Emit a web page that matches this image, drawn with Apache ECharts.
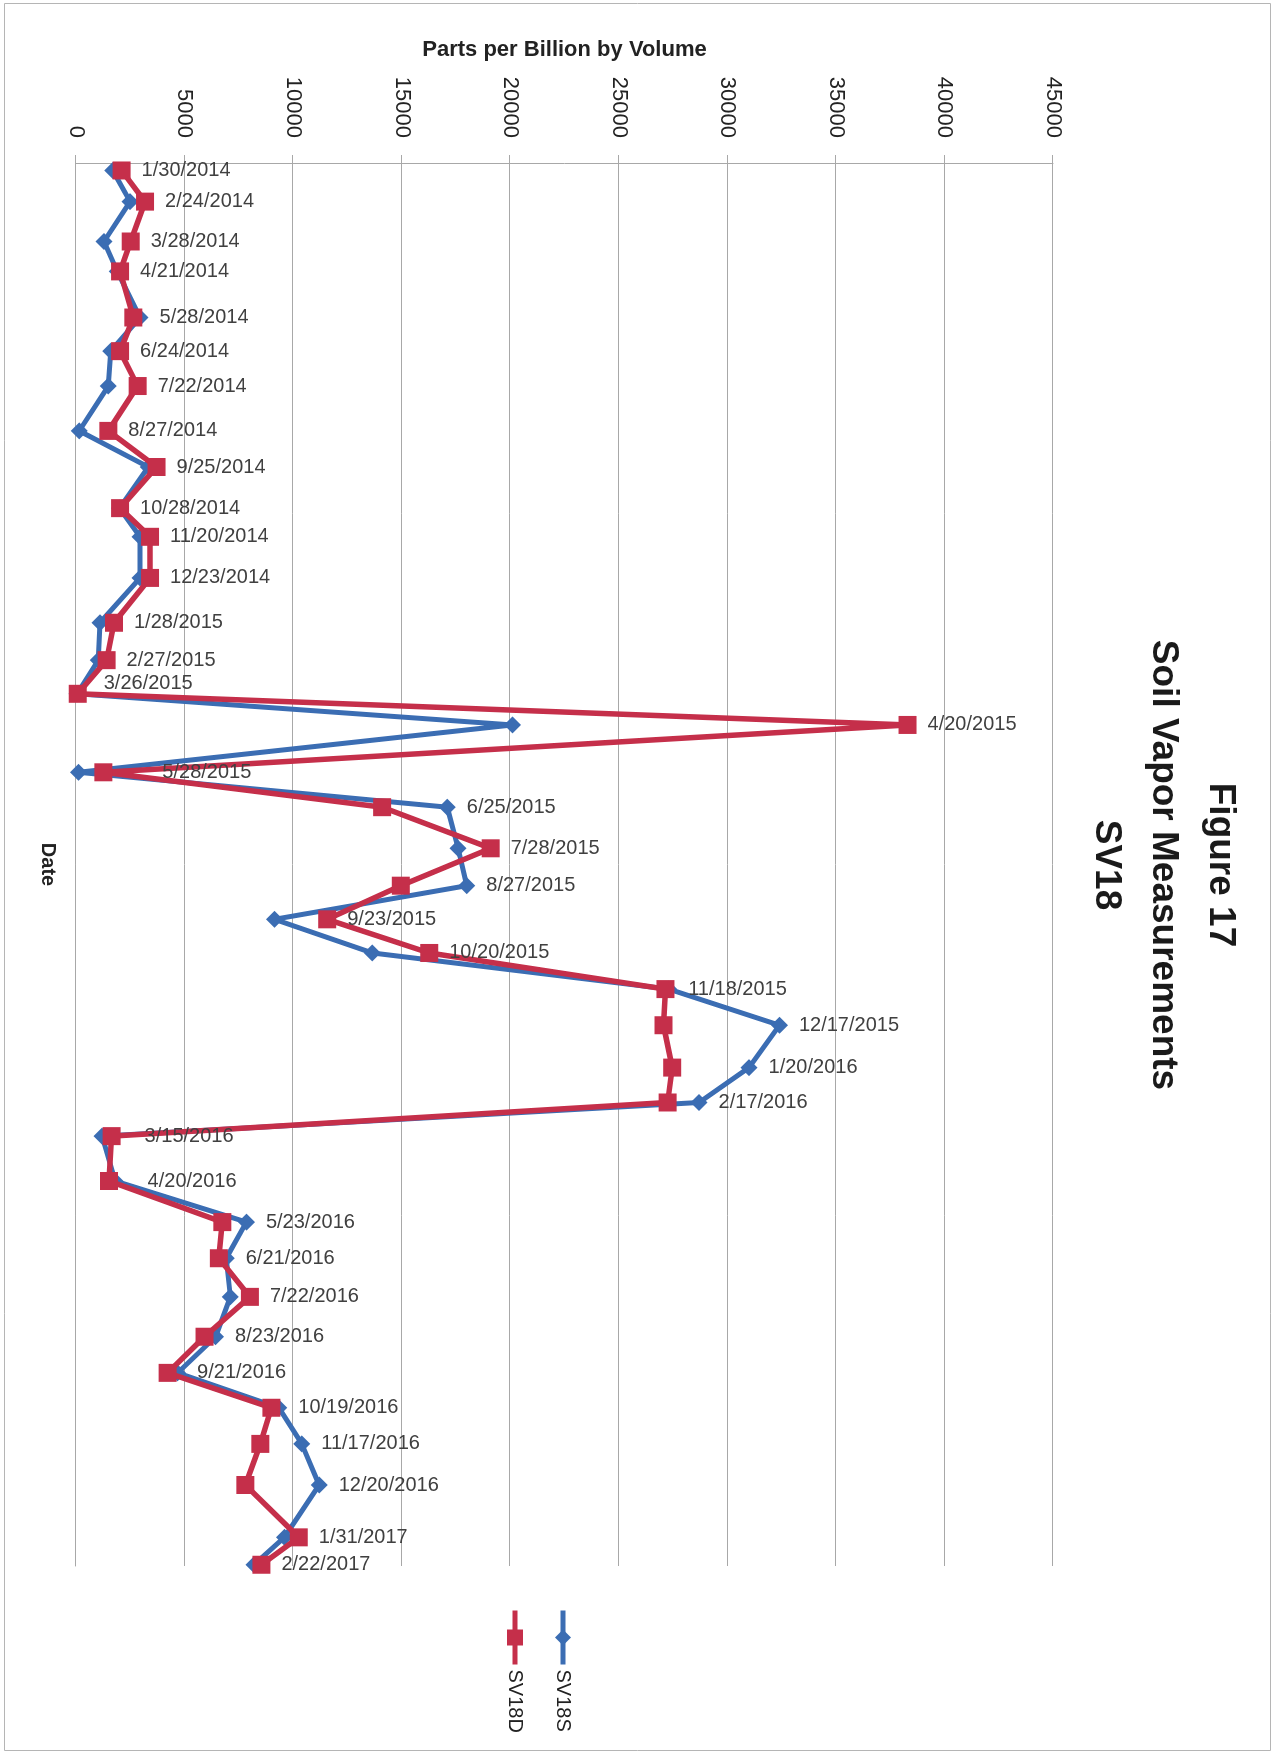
<!DOCTYPE html>
<html>
<head>
<meta charset="utf-8">
<script src="https://cdn.jsdelivr.net/npm/echarts@6/dist/echarts.min.js"></script>
<style>
  html, body { margin: 0; padding: 0; background: #fff; overflow: hidden; }
  #chart {
    position: absolute; left: 0; top: 0;
    width: 1754px; height: 1275px;
    transform-origin: 0 0;
    transform: translate(1275px, 0) rotate(90deg);
    background: #fff;
  }
</style>
</head>
<body>
<div id="chart"></div>
<script>
// ---- data ----
const dates = [
  '1/30/2014','2/24/2014','3/28/2014','4/21/2014','5/28/2014','6/24/2014','7/22/2014','8/27/2014',
  '9/25/2014','10/28/2014','11/20/2014','12/23/2014',
  '1/28/2015','2/27/2015','3/26/2015','4/20/2015','5/28/2015','6/25/2015','7/28/2015','8/27/2015',
  '9/23/2015','10/20/2015','11/18/2015','12/17/2015',
  '1/20/2016','2/17/2016','3/15/2016','4/20/2016','5/23/2016','6/21/2016','7/22/2016','8/23/2016',
  '9/21/2016','10/19/2016','11/17/2016','12/20/2016',
  '1/31/2017','2/22/2017'
];
const sv18s = [
  1690, 2490, 1290, 1900, 2950, 1600, 1490, 150, 3330, 2000, 2950, 2950,
  1100, 1030, 50, 20100, 110, 17100, 17600, 18000, 9140, 13650, 27300, 32400,
  31000, 28700, 1200, 1800, 7850, 6920, 7110, 6430, 4680, 9340, 10400, 11200,
  9600, 8200
];
const sv18d = [
  2100, 3180, 2520, 2030, 2640, 2030, 2840, 1490, 3710, 2030, 3410, 3410,
  1750, 1410, 80, 38300, 1260, 14100, 19100, 14960, 11570, 16270, 27150, 27060,
  27460, 27250, 1640, 1520, 6740, 6580, 8010, 5920, 4220, 9000, 8490, 7800,
  10260, 8540
];
const valueTicks = [0, 5000, 10000, 15000, 20000, 25000, 30000, 35000, 40000, 45000];
const seriesNames = ['SV18S', 'SV18D'];
const titleLines = ['Figure 17', 'Soil Vapor Measurements', 'SV18'];
const valueAxisName = 'Parts per Billion by Volume';
const dateAxisName = 'Date';
const dateMin = '2014-01-24';
const dateMax = '2017-02-23';

// label tweaks (style only)
const labelTweaks = {
  '5/28/2015': { distance: 50 },
  '3/26/2015': { offset: [6, -10] },
  '3/15/2016': { distance: 24 },
  '4/20/2016': { distance: 24 }
};

function toIso(d) {
  const p = d.split('/');
  return p[2] + '-' + p[0].padStart(2, '0') + '-' + p[1].padStart(2, '0');
}

function build(vals, other, preferOnTie) {
  return dates.map(function (d, i) {
    const item = { value: [toIso(d), vals[i]] };
    if (vals[i] > other[i] || (vals[i] === other[i] && preferOnTie)) {
      item.label = Object.assign({ show: true, formatter: d }, labelTweaks[d] || {});
    }
    return item;
  });
}

const BLUE = '#3b6db3';
const RED = '#c52f4a';
const GRIDC = '#a8a8a8';
const FONT = '"Liberation Sans", Arial, sans-serif';

const chart = echarts.init(document.getElementById('chart'), null, { renderer: 'canvas' });

const labelBase = {
  show: false,
  position: 'top',
  rotate: 90,
  align: 'left',
  verticalAlign: 'middle',
  distance: 11,
  color: '#404040',
  fontFamily: FONT,
  fontSize: 20
};

chart.setOption({
  animation: false,
  backgroundColor: '#fff',
  title: {
    text: titleLines.join('\n'),
    left: 860,
    top: 21,
    textAlign: 'center',
    textStyle: {
      fontFamily: FONT,
      fontWeight: 'bold',
      fontSize: 37,
      lineHeight: 57,
      color: '#1a1a1a'
    }
  },
  legend: {
    orient: 'vertical',
    left: 1603,
    top: 697,
    itemWidth: 54,
    itemHeight: 20,
    itemGap: 28,
    data: seriesNames,
    lineStyle: { width: 5 },
    textStyle: { fontFamily: FONT, fontSize: 20, color: '#222' }
  },
  graphic: [{
    type: 'rect',
    silent: true,
    shape: { x: 3.5, y: 4.5, width: 1747, height: 1266 },
    style: { fill: 'none', stroke: '#b5b5b5', lineWidth: 1 }
  }],
  grid: { left: 163, right: 188, top: 222, bottom: 76, containLabel: false },
  xAxis: {
    type: 'time',
    min: dateMin,
    max: dateMax,
    name: dateAxisName,
    nameLocation: 'middle',
    nameGap: 18,
    nameTextStyle: { fontFamily: FONT, fontWeight: 'bold', fontSize: 20, color: '#222', verticalAlign: 'top' },
    axisLine: { show: true, lineStyle: { color: GRIDC, width: 1 } },
    axisTick: { show: false },
    axisLabel: { show: false },
    splitLine: { show: false }
  },
  yAxis: {
    type: 'value',
    min: valueTicks[0],
    max: valueTicks[valueTicks.length - 1],
    interval: valueTicks[1] - valueTicks[0],
    name: valueAxisName,
    nameLocation: 'middle',
    nameGap: 113,
    nameRotate: 90,
    nameTextStyle: { fontFamily: FONT, fontWeight: 'bold', fontSize: 22, color: '#222', verticalAlign: 'middle' },
    axisLine: { show: true, lineStyle: { color: GRIDC, width: 1 } },
    axisTick: { show: true, inside: false, length: 8, lineStyle: { color: GRIDC } },
    axisLabel: {
      margin: 25, fontFamily: FONT, fontSize: 22, color: '#222',
      formatter: function (v) { return String(v); }
    },
    splitLine: { show: true, lineStyle: { color: GRIDC, width: 1 } }
  },
  series: [
    {
      name: seriesNames[0],
      type: 'line',
      data: build(sv18s, sv18d, false),
      symbol: 'diamond',
      symbolSize: 17,
      showAllSymbol: true,
      itemStyle: { color: BLUE },
      lineStyle: { color: BLUE, width: 5 },
      label: labelBase,
      z: 2
    },
    {
      name: seriesNames[1],
      type: 'line',
      data: build(sv18d, sv18s, true),
      symbol: 'rect',
      symbolSize: 18,
      showAllSymbol: true,
      itemStyle: { color: RED },
      lineStyle: { color: RED, width: 5.5 },
      label: labelBase,
      z: 3
    }
  ]
});
</script>
</body>
</html>
